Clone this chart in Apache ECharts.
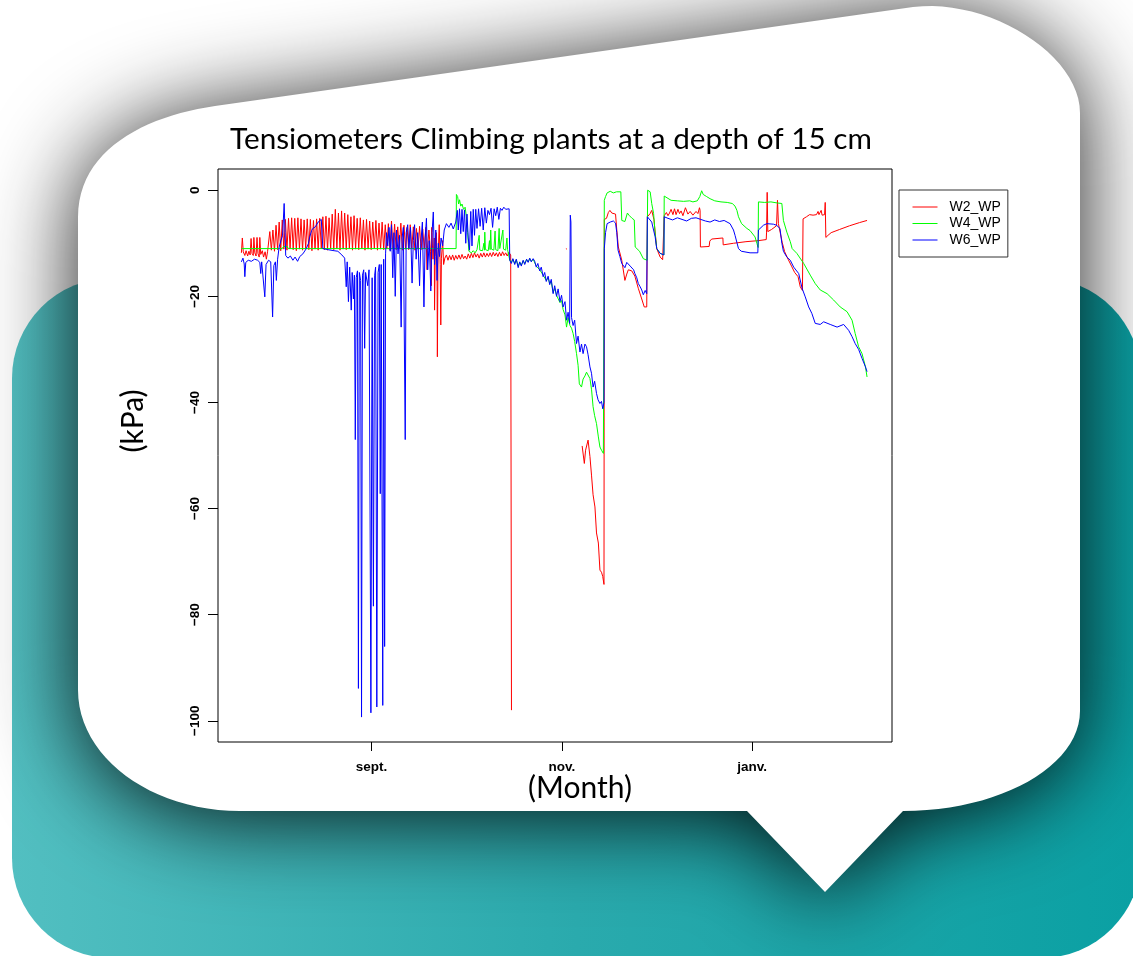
<!DOCTYPE html>
<html>
<head>
<meta charset="utf-8">
<title>Tensiometers Climbing plants</title>
<script src="https://cdn.jsdelivr.net/npm/echarts@6/dist/echarts.min.js"></script>
<style>
    html, body { margin: 0; padding: 0; background: #ffffff; }
    #chart { width: 1133px; height: 956px; }
</style>
</head>
<body>
<div id="chart"></div>
<script>
// x values are days counted from 1 Sept, y values are kPa
var monthTicks = [0, 61, 122];
var monthLabels = ['sept.', 'nov.', 'janv.'];
var kpaTicks = [0, -20, -40, -60, -80, -100];
var seriesNames = ['W2_WP', 'W4_WP', 'W6_WP'];
var seriesColors = ['#ff0000', '#00ff00', '#0000ff'];

var w2Data = [
    [-41.7, -11.8], [-41.4, -9.0], [-41.1, -11.6], [-40.6, -12.3], [-40.2, -11.4], [-39.7, -12.4], [-39.3, -11.5],
    [-38.9, -12.2], [-38.6, -9.1], [-38.3, -11.9], [-37.9, -12.3], [-37.7, -8.9], [-37.4, -11.8], [-37.0, -12.4],
    [-36.7, -8.9], [-36.4, -11.9], [-36.0, -12.6], [-35.8, -8.9], [-35.5, -12.1], [-35.0, -11.4], [-34.6, -12.6],
    [-34.1, -11.6], [-33.7, -13.0], [-33.3, -11.5],
    [-33.0, -11.2], [-32.6, -7.8], [-32.1, -11.3], [-31.6, -7.5], [-31.1, -11.5], [-30.6, -6.6], [-30.1, -11.2],
    [-29.6, -6.0], [-29.1, -11.4], [-28.6, -5.6], [-28.1, -11.1], [-27.6, -5.5], [-27.1, -11.3], [-26.6, -5.3],
    [-26.1, -11.0], [-25.6, -5.2], [-25.1, -11.2], [-24.6, -5.3], [-24.1, -11.4], [-23.6, -5.2], [-23.1, -11.1],
    [-22.6, -5.4], [-22.1, -11.3], [-21.6, -5.6], [-21.1, -11.0], [-20.6, -5.4], [-20.1, -11.2], [-19.6, -5.5],
    [-19.1, -11.4], [-18.6, -5.7], [-18.1, -11.1], [-17.6, -5.4], [-17.1, -11.3], [-16.6, -5.3], [-16.1, -11.0],
    [-15.6, -5.0], [-15.1, -11.2], [-14.6, -4.9], [-14.1, -11.3], [-13.6, -5.2], [-13.1, -11.1], [-12.6, -4.5],
    [-12.1, -11.2], [-11.6, -3.6], [-11.1, -11.0], [-10.6, -4.3], [-10.1, -11.3], [-9.6, -3.9], [-9.1, -11.1],
    [-8.6, -4.3], [-8.1, -11.2], [-7.6, -4.6], [-7.1, -11.0], [-6.6, -5.0], [-6.1, -11.3], [-5.6, -4.8],
    [-5.1, -11.1], [-4.6, -5.3], [-4.1, -11.2], [-3.6, -5.2], [-3.1, -11.0], [-2.6, -5.6], [-2.1, -11.3],
    [-1.6, -5.5], [-1.1, -11.1], [-0.6, -5.8], [-0.1, -11.2], [0.4, -6.0], [0.9, -11.0], [1.4, -5.7],
    [1.9, -11.3], [2.4, -6.2], [2.9, -11.1], [3.4, -6.0], [3.9, -11.2], [4.4, -6.5], [4.9, -11.0],
    [5.4, -6.3], [5.9, -11.3], [6.4, -5.8], [6.9, -11.1], [7.4, -6.4], [7.9, -11.2], [8.4, -6.9],
    [8.9, -11.0], [9.4, -6.2], [9.9, -11.3], [10.4, -6.6], [10.9, -11.1], [11.4, -7.0], [11.9, -11.2],
    [12.4, -6.5], [12.9, -11.0], [13.4, -6.9], [13.9, -11.3], [14.4, -7.2], [14.9, -11.1], [15.4, -6.8],
    [15.9, -11.2], [16.4, -7.3], [16.9, -11.0], [17.4, -7.0], [17.8, -15.0], [17.9, -11.3], [18.4, -7.5],
    [18.9, -11.5], [19.2, -18.0], [19.3, -7.0], [19.7, -13.0], [20.1, -9.0], [20.2, -22.6], [20.4, -12.5],
    [20.8, -8.0], [21.0, -14.5], [21.1, -31.4], [21.3, -13.0], [21.7, -6.5], [22.0, -14.0], [22.2, -25.4],
    [22.4, -12.8], [22.8, -9.5], [23.1, -14.0], [23.5, -12.8],
    [24.0, -12.2], [24.5, -13.2], [25.0, -12.3], [25.5, -13.1], [26.0, -12.2], [26.5, -13.2], [27.0, -12.3],
    [27.5, -13.0], [28.0, -12.2], [28.5, -13.0], [29.0, -12.1], [29.5, -12.9], [30.0, -12.4], [30.5, -13.0],
    [31.0, -12.0], [31.5, -12.8], [32.0, -11.9], [32.5, -12.7], [33.0, -11.8], [33.5, -12.6], [34.0, -12.0],
    [34.5, -12.8], [35.0, -11.9], [35.5, -12.6], [36.0, -11.8], [36.5, -12.6], [37.0, -11.9], [37.5, -12.5],
    [38.0, -11.8], [38.5, -12.5], [39.0, -11.7], [39.5, -12.4], [40.0, -11.8], [40.5, -12.5], [41.0, -11.7],
    [41.5, -12.4], [42.0, -11.6], [42.5, -12.3], [43.0, -11.8], [43.5, -12.4], [44.0, -11.7], [44.6, -12.2],
    [44.85, -98.0], [45.0, null],
    [62.3, -11.0], [62.6, -11.1], [62.8, null],
    [67.5, -48.2], [68.2, -51.5], [68.6, -49.0], [69.4, -47.1], [70.0, -50.2], [70.5, -53.7], [71.0, -57.4],
    [71.6, -59.7], [72.1, -64.6], [72.7, -66.5], [73.2, -71.6], [73.7, -72.0], [74.1, -72.8], [74.5, -74.3],
    [74.6, -5.5], [75.3, -5.3], [75.9, -4.2], [76.4, -3.8], [77.0, -4.3], [77.5, -4.0], [78.2, -4.5],
    [78.6, -7.5], [79.1, -10.7], [80.2, -13.2], [81.2, -17.0], [81.8, -15.8], [82.3, -15.0], [83.4, -15.2],
    [84.4, -16.2], [85.5, -18.5], [86.6, -20.5], [87.4, -22.0], [88.2, -22.0], [88.4, -5.0], [89.3, -4.4],
    [89.8, -3.8], [90.5, -5.5], [91.4, -11.0], [92.5, -12.6], [93.3, -13.1], [93.7, -13.2], [93.8, -4.8],
    [94.5, -4.2], [95.0, -4.8], [95.5, -4.3], [96.0, -3.6], [96.6, -4.6], [97.1, -3.5], [97.6, -4.6],
    [98.2, -3.6], [98.7, -4.4], [99.2, -3.9], [99.8, -4.8], [100.6, -3.3], [101.4, -4.5], [102.1, -4.0],
    [103.0, -4.7], [104.0, -4.0], [104.6, -4.4], [105.1, -3.3], [105.3, -3.8], [105.4, -10.7], [108.2, -10.6],
    [108.4, -9.6], [109.0, -9.2], [112.6, -9.0], [112.7, -10.3], [116.0, -10.0], [120.0, -9.7], [124.0, -9.5],
    [126.5, -9.3], [126.6, -7.9], [126.8, -0.4], [127.0, -7.8], [128.2, -7.4], [129.8, -6.7], [130.1, -1.9],
    [130.4, -6.3], [131.0, -6.5], [131.6, -9.8], [132.4, -11.6], [133.5, -13.0], [134.6, -14.3], [135.6, -15.5],
    [136.7, -16.3], [137.4, -18.2], [138.1, -18.9], [138.3, -5.4], [139.4, -5.0], [140.4, -4.6], [141.5, -4.7],
    [142.6, -4.6], [143.1, -4.0], [143.4, -4.6], [144.1, -3.8], [144.4, -4.7], [145.2, -4.6], [145.4, -2.3],
    [145.6, -8.9], [146.3, -8.5], [147.3, -8.0], [150.0, -7.4], [153.2, -6.7], [156.4, -6.1], [158.8, -5.7]
];

var w4Data = [
    [-41.7, -11.0], [-28.6, -11.0], [-28.2, -10.6], [-27.0, -10.6], [-26.7, -11.0], [27.1, -11.0], [27.2, -0.8],
    [27.6, -1.2], [27.9, -2.6], [28.2, -1.8], [28.6, -3.0], [29.0, -2.6], [29.5, -3.6], [30.0, -3.2],
    [30.4, -5.0], [30.8, -8.0], [31.2, -11.5], [32.0, -11.8], [32.6, -11.4], [33.2, -11.8], [33.8, -11.2],
    [34.3, -11.5], [34.5, -8.5], [34.7, -11.3], [35.6, -11.4], [36.0, -10.0], [36.2, -11.3], [36.3, -7.9],
    [36.5, -11.2], [37.4, -11.4], [37.8, -9.5], [38.0, -11.2], [38.2, -7.5], [38.4, -11.1], [39.2, -11.3],
    [39.6, -7.7], [39.8, -11.2], [40.5, -11.4], [40.9, -7.2], [41.1, -11.0], [41.7, -11.3], [42.1, -7.5],
    [42.3, -11.1], [43.0, -11.3], [43.4, -9.0], [43.6, -11.2], [44.1, -11.0],
    [44.3, -13.2], [44.8, -13.6], [45.3, -13.0], [45.9, -13.8], [46.4, -13.1], [47.0, -14.3], [47.5, -13.6],
    [48.0, -14.1], [48.6, -13.3], [49.1, -13.8], [49.7, -13.1], [50.2, -13.5], [50.7, -12.9], [51.2, -13.4],
    [51.8, -13.0], [52.3, -13.3], [52.8, -14.3], [53.3, -14.0], [53.9, -15.0], [54.4, -14.7], [55.0, -16.0],
    [55.5, -15.7], [56.0, -17.0], [56.6, -16.5], [57.1, -17.6], [57.6, -17.2], [58.2, -19.3], [58.7, -18.5],
    [59.3, -19.8], [59.8, -19.5], [60.4, -21.2], [60.9, -20.8], [61.4, -22.5], [62.0, -23.5], [62.5, -25.8],
    [63.0, -24.0], [63.6, -25.5], [64.1, -26.0], [64.6, -27.0], [65.1, -28.5], [65.7, -30.8], [66.2, -33.0],
    [66.6, -36.5], [67.3, -37.1], [67.8, -35.6], [68.4, -35.0], [68.9, -34.3], [69.4, -34.0], [70.0, -35.5],
    [70.5, -37.5], [71.0, -40.8], [71.5, -42.5], [72.1, -44.0], [72.7, -46.5], [73.2, -48.4], [73.7, -49.0],
    [74.3, -49.6], [74.6, -49.7], [74.6, -1.9], [75.0, -1.2], [75.5, -0.5], [76.5, -0.2], [77.5, -0.5],
    [78.5, -0.3], [79.9, -0.3], [80.2, -5.7], [81.2, -5.9], [82.0, -4.3], [82.5, -4.7], [83.5, -5.3],
    [84.2, -5.6], [84.5, -10.7], [85.9, -11.5], [87.1, -12.9], [88.3, -13.2], [88.5, 0.0], [89.0, -0.1],
    [89.3, -0.3], [89.8, -2.5], [90.4, -4.4], [90.9, -8.2], [91.4, -11.0], [92.5, -11.9], [93.7, -12.2],
    [93.8, -1.1], [94.2, -1.2], [96.0, -1.9], [98.0, -2.0], [100.0, -2.1], [102.0, -2.0], [103.0, -2.2],
    [104.4, -2.0], [105.2, -1.2], [105.8, -0.1], [106.3, -0.8], [107.4, -1.2], [108.5, -1.6], [110.0, -2.0],
    [112.0, -2.2], [114.0, -2.3], [115.6, -2.5], [116.5, -3.0], [117.1, -3.8], [117.6, -5.0], [118.6, -6.3],
    [120.3, -7.2], [121.3, -7.6], [122.9, -8.8], [123.5, -10.0], [123.9, -10.8], [124.0, -2.2], [126.0, -2.3],
    [128.0, -2.2], [130.0, -2.4], [131.5, -2.5], [132.0, -5.7], [133.1, -7.9], [134.2, -9.7], [134.8, -11.0],
    [136.3, -11.9], [138.5, -13.8], [140.6, -16.0], [142.2, -17.6], [143.8, -18.8], [146.0, -19.5], [148.1, -20.7],
    [150.2, -22.0], [152.4, -22.9], [154.0, -24.5], [155.0, -27.0], [156.1, -29.5], [157.2, -30.8], [158.3, -33.3],
    [158.8, -35.2]
];

var w6Data = [
    [-41.7, -13.5], [-41.2, -12.8], [-40.8, -13.9], [-40.6, -16.3], [-40.3, -13.6], [-39.5, -13.2], [-38.5, -13.4],
    [-37.5, -13.0], [-36.5, -13.2], [-35.8, -13.6], [-35.5, -15.7], [-35.2, -13.5], [-34.6, -13.8], [-34.2, -20.1],
    [-33.8, -14.0], [-33.0, -13.2], [-32.3, -13.5], [-31.7, -23.9], [-31.3, -14.2], [-30.8, -13.5], [-30.5, -17.0],
    [-30.1, -13.0], [-29.6, -10.7], [-29.0, -9.4], [-28.5, -8.5], [-28.0, -2.5], [-27.7, -8.0], [-27.5, -12.3],
    [-26.8, -12.8], [-26.0, -12.4], [-25.2, -13.2], [-24.5, -12.6], [-23.7, -13.4], [-23.0, -12.5], [-22.0, -12.0],
    [-20.9, -11.0], [-20.2, -10.0], [-19.8, -8.8], [-19.2, -7.6], [-18.8, -7.2], [-18.0, -6.9], [-17.1, -6.0],
    [-16.6, -5.8], [-16.1, -5.5], [-15.7, -5.6], [-15.6, -11.0], [-14.0, -11.2], [-12.0, -11.4], [-10.8, -11.5],
    [-9.5, -12.2], [-8.6, -12.8], [-8.1, -18.2], [-7.8, -13.5], [-7.4, -21.0], [-7.0, -14.5], [-6.5, -22.6],
    [-6.2, -15.5], [-5.8, -20.5], [-5.5, -16.0], [-5.2, -47.0], [-4.9, -16.5], [-4.5, -15.2], [-4.2, -93.9],
    [-3.9, -15.5], [-3.5, -17.0], [-3.2, -99.3], [-2.9, -16.0], [-2.5, -15.0], [-2.2, -29.8], [-1.9, -15.5],
    [-1.2, -18.0], [-0.8, -15.0], [-0.2, -98.5], [0.2, -16.5], [0.6, -78.4], [1.0, -16.0], [1.3, -14.5],
    [1.7, -97.4], [2.1, -15.5], [2.5, -14.0], [2.8, -57.2], [3.1, -14.0], [3.6, -97.1], [3.9, -13.0],
    [4.2, -86.0], [4.5, -12.0], [4.8, -8.0], [5.2, -10.5], [5.6, -7.0], [6.0, -11.5], [6.4, -6.5],
    [6.8, -16.5], [7.2, -8.0], [7.6, -20.0], [8.0, -7.5], [8.5, -12.0], [9.0, -8.5], [9.5, -25.8],
    [9.8, -9.0], [10.2, -7.0], [10.8, -47.0], [11.1, -8.0], [11.6, -6.5], [12.0, -11.0], [12.5, -7.0],
    [13.0, -17.5], [13.4, -9.5], [13.8, -6.5], [14.3, -13.0], [14.8, -8.0], [15.4, -18.0], [15.8, -10.0],
    [16.3, -6.0], [16.8, -22.0], [17.2, -9.0], [17.6, -5.3], [18.0, -15.0], [18.5, -9.5], [19.0, -19.0],
    [19.4, -8.0], [19.8, -4.1], [20.2, -14.0], [20.6, -7.5], [21.0, -17.0], [21.4, -10.0], [21.8, -12.5],
    [22.3, -9.0], [22.8, -10.5], [23.3, -7.5], [24.0, -6.3], [24.8, -7.0], [25.5, -6.2], [26.2, -7.3],
    [27.0, -6.0], [27.5, -3.8], [27.8, -7.5], [28.2, -3.5], [28.6, -8.2], [29.0, -3.6], [29.4, -7.8],
    [29.8, -3.7], [30.2, -10.0], [30.6, -4.5], [31.0, -9.0], [31.4, -11.3], [31.8, -4.0], [32.2, -10.5],
    [32.6, -3.6], [33.0, -8.5], [33.4, -3.6], [33.8, -7.2], [34.3, -3.5], [34.8, -6.8], [35.3, -3.4],
    [35.8, -7.5], [36.3, -3.3], [36.8, -6.2], [37.3, -3.8], [37.8, -4.6], [38.3, -3.4], [38.8, -7.0],
    [39.3, -3.5], [39.8, -4.8], [40.3, -3.2], [40.8, -5.5], [41.3, -3.4], [41.8, -3.8], [42.4, -3.2],
    [43.0, -3.6], [43.6, -3.3], [44.1, -3.5],
    [44.3, -13.2], [44.8, -13.8], [45.3, -12.9], [45.9, -14.0], [46.4, -13.0], [47.0, -14.6], [47.5, -13.5],
    [48.0, -14.3], [48.6, -13.2], [49.1, -14.0], [49.7, -13.0], [50.2, -13.6], [50.7, -12.8], [51.2, -13.5],
    [51.8, -12.9], [52.3, -13.4], [52.8, -14.5], [53.3, -13.8], [53.9, -15.2], [54.4, -14.5], [55.0, -16.3],
    [55.5, -15.5], [56.0, -17.2], [56.6, -16.2], [57.1, -17.8], [57.6, -16.8], [58.2, -19.5], [58.7, -18.0],
    [59.3, -20.0], [59.8, -18.6], [60.4, -21.0], [60.9, -19.8], [61.4, -22.0], [62.0, -21.0], [62.5, -24.5],
    [63.0, -23.0], [63.5, -25.1], [63.7, -4.7], [63.9, -6.0], [64.1, -24.0], [64.6, -25.5], [65.1, -24.5],
    [65.7, -28.9], [66.2, -27.5], [66.8, -30.5], [67.3, -29.0], [67.8, -30.8], [68.4, -29.0], [68.9, -29.5],
    [69.4, -31.0], [70.0, -33.3], [70.5, -34.5], [71.0, -37.1], [71.5, -36.0], [72.1, -38.3], [72.6, -39.5],
    [73.2, -40.2], [73.7, -39.8], [74.1, -41.2], [74.5, -40.0], [74.6, -11.0], [75.0, -8.0], [75.5, -6.3],
    [76.5, -6.0], [77.5, -5.8], [78.2, -6.2], [78.6, -8.0], [79.0, -11.3], [79.6, -12.5], [80.2, -13.8],
    [80.7, -13.6], [81.2, -14.6], [81.8, -13.6], [82.3, -13.8], [82.9, -14.3], [83.4, -14.6], [84.0, -15.0],
    [84.4, -15.7], [85.0, -16.5], [85.5, -17.6], [86.1, -18.2], [86.6, -18.8], [87.1, -19.7], [87.7, -18.9],
    [88.2, -19.5], [88.4, -5.0], [88.9, -5.0], [89.8, -6.0], [90.9, -8.8], [91.4, -11.0], [92.5, -11.9],
    [93.7, -12.2], [93.8, -5.0], [95.0, -5.3], [96.5, -5.6], [98.0, -5.2], [99.5, -5.5], [101.0, -5.8],
    [102.5, -5.3], [104.0, -5.2], [105.5, -5.5], [107.0, -5.8], [108.5, -6.0], [110.0, -5.6], [111.5, -5.9],
    [113.0, -5.7], [114.9, -6.3], [116.0, -7.5], [116.5, -8.5], [117.6, -11.0], [118.5, -11.5], [121.3, -11.8],
    [123.8, -11.8], [124.0, -7.5], [124.5, -7.2], [125.6, -6.6], [126.7, -6.3], [128.8, -6.4], [129.8, -6.6],
    [130.9, -7.2], [131.5, -10.0], [132.0, -11.5], [133.1, -12.6], [134.2, -13.2], [135.3, -14.5], [136.9, -15.7],
    [138.0, -18.5], [139.0, -20.1], [140.1, -22.0], [141.1, -23.2], [142.2, -25.1], [143.8, -25.3], [144.9, -24.8],
    [147.0, -25.3], [149.2, -25.8], [151.3, -25.3], [152.9, -26.4], [154.0, -27.6], [155.0, -28.9], [156.1, -30.0],
    [157.2, -31.7], [158.3, -33.3], [158.8, -34.2]
];

// sample a cubic bezier for the speech bubble outline
function bez(p0, c1, c2, p3) {
    var pts = [];
    for (var i = 1; i <= 24; i++) {
        var t = i / 24, u = 1 - t;
        pts.push([
            u * u * u * p0[0] + 3 * u * u * t * c1[0] + 3 * u * t * t * c2[0] + t * t * t * p3[0],
            u * u * u * p0[1] + 3 * u * u * t * c1[1] + 3 * u * t * t * c2[1] + t * t * t * p3[1]
        ]);
    }
    return pts;
}

function bubbleOutline() {
    var pts = [[78, 690], [78, 217]];
    pts = pts.concat(bez([78, 217], [78, 150], [145, 116], [215, 106]));
    pts.push([913, 7]);
    pts = pts.concat(bez([913, 7], [990, -2], [1080, 55], [1080, 113]));
    pts.push([1080, 711]);
    pts = pts.concat(bez([1080, 711], [1080, 766], [1000, 811], [903, 811]));
    pts.push([825, 892], [747, 811], [240, 811]);
    pts = pts.concat(bez([240, 811], [151, 811], [78, 757], [78, 690]));
    return pts;
}

var chart = echarts.init(document.getElementById('chart'));
var dataList = [w2Data, w4Data, w6Data];

chart.setOption({
    animation: false,
    title: {
        text: 'Tensiometers Climbing plants at a depth of 15 cm',
        left: 551,
        top: 139,
        padding: 0,
        textAlign: 'center',
        textVerticalAlign: 'middle',
        textStyle: {
            fontFamily: 'Lato',
            fontSize: 29.7,
            fontWeight: 'normal',
            color: '#000'
        }
    },
    graphic: {
        elements: [
            {
                type: 'rect',
                z: 0,
                z2: 0,
                shape: { x: 12, y: 278, width: 1129, height: 680, r: 100 },
                style: {
                    fill: {
                        type: 'linear', x: 0, y: 0, x2: 1, y2: 0,
                        colorStops: [
                            { offset: 0, color: '#52bfc1' },
                            { offset: 0.5, color: '#2aaaad' },
                            { offset: 1, color: '#0aa0a3' }
                        ]
                    }
                }
            },
            {
                type: 'polygon',
                z: 0,
                z2: 1,
                shape: { points: bubbleOutline() },
                style: {
                    fill: '#ffffff',
                    shadowBlur: 90,
                    shadowColor: 'rgba(0,0,0,0.9)',
                    shadowOffsetY: 8
                }
            },
            {
                type: 'text',
                z: 10,
                x: 133,
                y: 421,
                rotation: Math.PI / 2,
                style: {
                    text: '(kPa)',
                    font: '30px Lato',
                    fill: '#000',
                    align: 'center',
                    verticalAlign: 'middle'
                }
            },
            {
                type: 'text',
                z: 10,
                x: 580,
                y: 788,
                style: {
                    text: '(Month)',
                    font: '30px Lato',
                    fill: '#000',
                    align: 'center',
                    verticalAlign: 'middle'
                }
            }
        ]
    },
    legend: {
        data: seriesNames,
        orient: 'vertical',
        left: 899,
        top: 190,
        padding: [10, 7, 10, 13],
        itemWidth: 25,
        itemHeight: 14,
        itemGap: 2.5,
        borderColor: '#333',
        borderWidth: 1,
        itemStyle: { opacity: 0 },
        lineStyle: { width: 1 },
        textStyle: {
            fontFamily: 'Liberation Sans',
            fontSize: 14,
            lineHeight: 14,
            color: '#000',
            padding: [0, 0, 0, 7]
        }
    },
    grid: {
        left: 218,
        top: 169,
        width: 674,
        height: 573,
        z: 1,
        show: true,
        borderColor: '#000',
        borderWidth: 1,
        backgroundColor: 'transparent'
    },
    xAxis: {
        type: 'value',
        min: -49.2,
        max: 166.8,
        axisLine: { show: false, onZero: false },
        splitLine: { show: false },
        axisTick: {
            show: true,
            customValues: monthTicks,
            length: 9,
            lineStyle: { color: '#000', width: 1 }
        },
        axisLabel: {
            customValues: monthTicks,
            margin: 18,
            fontFamily: 'Liberation Sans',
            fontSize: 13.5,
            fontWeight: 'bold',
            color: '#000',
            formatter: function (v) {
                var i = monthTicks.indexOf(v);
                return i >= 0 ? monthLabels[i] : '';
            }
        }
    },
    yAxis: {
        type: 'value',
        min: -104,
        max: 4,
        axisLine: { show: false, onZero: false },
        splitLine: { show: false },
        axisTick: {
            show: true,
            customValues: kpaTicks,
            length: 10,
            lineStyle: { color: '#000', width: 1 }
        },
        axisLabel: {
            customValues: kpaTicks,
            rotate: 90,
            margin: 16,
            fontFamily: 'Liberation Sans',
            fontSize: 13.5,
            fontWeight: 'bold',
            color: '#000',
            formatter: function (v) {
                return String(v).replace('-', '\u2212');
            }
        }
    },
    series: seriesNames.map(function (name, i) {
        return {
            name: name,
            type: 'line',
            data: dataList[i],
            symbol: 'none',
            connectNulls: false,
            color: seriesColors[i],
            lineStyle: { color: seriesColors[i], width: 1 }
        };
    })
});
</script>
</body>
</html>
